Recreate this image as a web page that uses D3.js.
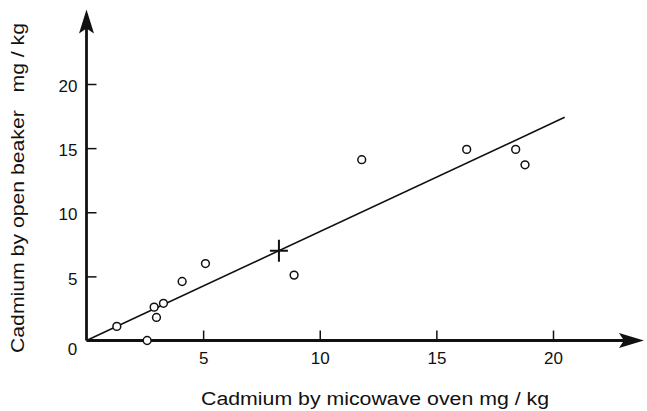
<!DOCTYPE html>
<html>
<head>
<meta charset="utf-8">
<script src="https://cdn.jsdelivr.net/npm/d3@7"></script>
<style>
  body { margin: 0; background: #fff; }
  svg { display: block; font-family: "Liberation Sans", Arial, sans-serif; }
</style>
</head>
<body>
<div id="chart"></div>
<script>
// data
const microwave = [1.3, 2.6, 2.9, 3.0, 3.3, 4.1, 5.1, 8.9, 11.8, 16.3, 18.4, 18.8]
const openBeaker = [1.1, 0.0, 2.6, 1.8, 2.9, 4.6, 6.0, 5.1, 14.1, 14.9, 14.9, 13.7]
const meanPoint = [8.25, 7.0]
const fitLine = [[0, 0], [20.5, 17.4]]
const xTicks = [5, 10, 15, 20]
const yTicks = [5, 10, 15, 20]

const width = 647, height = 411
const ink = "#111"

let svg = d3.select("#chart").append("svg")
  .attr("width", width)
  .attr("height", height)

// SCALES
let xScale = d3.scaleLinear().domain([0, 20]).range([86.5, 553])
let yScale = d3.scaleLinear().domain([0, 20]).range([340.5, 84])

// AXES (ticks point inwards)
let xAxis = d3.axisBottom(xScale).tickValues(xTicks).tickSize(-10).tickPadding(11)
let yAxis = d3.axisLeft(yScale).tickValues(yTicks).tickSize(-10).tickPadding(9)

let gx = svg.append("g")
  .attr("transform", "translate(0," + yScale(0) + ")")
  .call(xAxis)
let gy = svg.append("g")
  .attr("transform", "translate(" + xScale(0) + ",0)")
  .call(yAxis)

;[gx, gy].forEach(function(g) {
  g.select(".domain").remove()
  g.selectAll(".tick line").attr("stroke", ink).attr("stroke-width", 1.5)
  g.selectAll(".tick text").attr("fill", ink).style("font-size", "17px")
})
gy.selectAll(".tick text").attr("dy", "0.45em")

// axis lines with arrowheads
let xEnd = 23.9, yEnd = 25.8
svg.append("line")
  .attr("x1", xScale(0)).attr("y1", yScale(0))
  .attr("x2", xScale(xEnd) - 10).attr("y2", yScale(0))
  .attr("stroke", ink).attr("stroke-width", 2.8)
svg.append("line")
  .attr("x1", xScale(0)).attr("y1", yScale(0))
  .attr("x2", xScale(0)).attr("y2", yScale(yEnd) + 10)
  .attr("stroke", ink).attr("stroke-width", 2.8)

let tx = xScale(xEnd), ty = yScale(0)
svg.append("path")
  .attr("d", "M" + tx + "," + ty + "L" + (tx - 25) + "," + (ty - 7.5) +
    "L" + (tx - 20) + "," + ty + "L" + (tx - 25) + "," + (ty + 7.5) + "Z")
  .attr("fill", ink)
let ax = xScale(0), ay = yScale(yEnd)
svg.append("path")
  .attr("d", "M" + ax + "," + ay + "L" + (ax - 7.5) + "," + (ay + 24) +
    "L" + ax + "," + (ay + 19) + "L" + (ax + 7.5) + "," + (ay + 24) + "Z")
  .attr("fill", ink)

// origin label
svg.append("text")
  .attr("x", xScale(0) - 14).attr("y", yScale(0) + 14)
  .attr("text-anchor", "middle")
  .attr("fill", ink)
  .style("font-size", "17px")
  .text("0")

// fitted line
svg.append("path")
  .datum(fitLine)
  .attr("d", d3.line().x(d => xScale(d[0])).y(d => yScale(d[1])))
  .attr("fill", "none")
  .attr("stroke", ink)
  .attr("stroke-width", 1.6)

// points
let points = microwave.map((x, i) => ({x: x, y: openBeaker[i]}))
svg.selectAll(".pt")
  .data(points)
  .enter().append("circle")
  .attr("class", "pt")
  .attr("cx", d => xScale(d.x))
  .attr("cy", d => yScale(d.y))
  .attr("r", 3.9)
  .attr("fill", "#fff")
  .attr("stroke", ink)
  .attr("stroke-width", 1.5)

// mean cross
let mx = xScale(meanPoint[0]), my = yScale(meanPoint[1])
svg.append("path")
  .attr("d", "M" + (mx - 9) + "," + my + "H" + (mx + 9) + "M" + mx + "," + (my - 11) + "V" + (my + 11))
  .attr("stroke", ink)
  .attr("stroke-width", 2)

// axis titles
svg.append("text")
  .attr("x", 201).attr("y", 405)
  .attr("fill", ink)
  .style("font-size", "18px")
  .attr("textLength", 348)
  .attr("lengthAdjust", "spacingAndGlyphs")
  .text("Cadmium by micowave oven mg / kg")

svg.append("text")
  .attr("transform", "translate(24,353) rotate(-90)")
  .attr("fill", ink)
  .style("font-size", "18px")
  .style("white-space", "pre")
  .attr("textLength", 330)
  .attr("lengthAdjust", "spacingAndGlyphs")
  .text("Cadmium by open beaker   mg / kg")
</script>
</body>
</html>
